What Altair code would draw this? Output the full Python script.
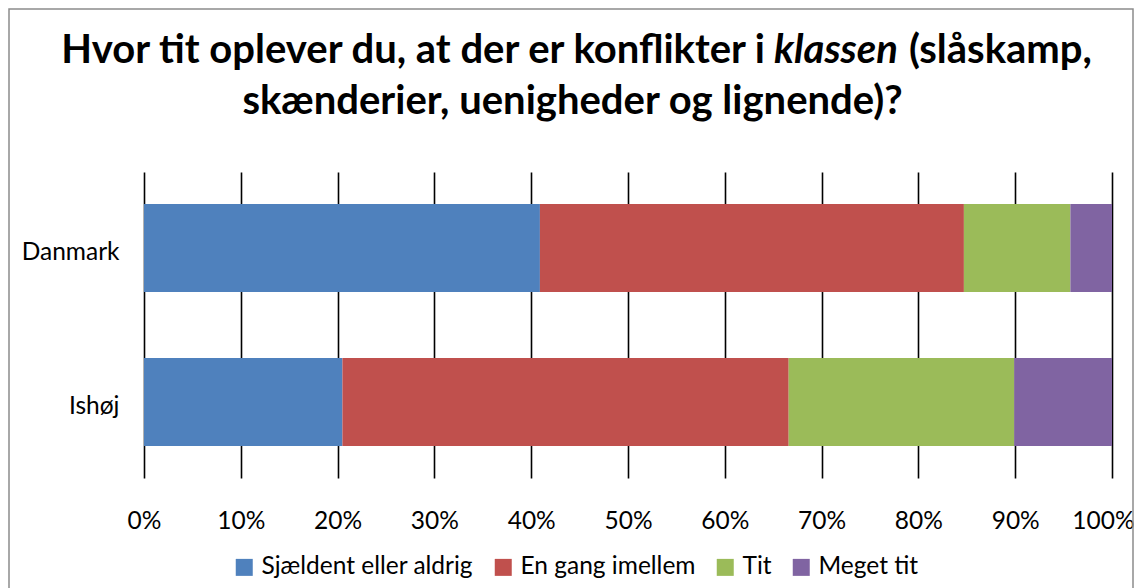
import altair as alt
import pandas as pd

categories = ["Danmark", "Ishøj"]
responses = ["Sjældent eller aldrig", "En gang imellem", "Tit", "Meget tit"]
danmark = [40.9, 43.8, 11.0, 4.3]
ishoj = [20.5, 46.1, 23.3, 10.1]
colors = ["#4F81BD", "#C0504D", "#9BBB59", "#8064A2"]
tick_values = [0, 10, 20, 30, 40, 50, 60, 70, 80, 90, 100]

title_left = "Hvor tit oplever du, at der er konflikter i"
title_italic = "klassen"
title_right = "(slåskamp,"
title_line2 = "skænderier, uenigheder og lignende)?"

rows = []
for cat, vals in zip(categories, [danmark, ishoj]):
    for i, (r, v) in enumerate(zip(responses, vals)):
        rows.append({"land": cat, "svar": r, "andel": v, "idx": i})
df = pd.DataFrame(rows)

FONT = "Lato"
FS = 24.5
W, H = 968, 306

bars = alt.Chart(df).mark_bar().encode(
    y=alt.Y("land:N", sort=categories, title=None,
            scale=alt.Scale(paddingInner=0.4286, paddingOuter=0.208),
            axis=alt.Axis(domain=False, ticks=False, grid=False, labelFont=FONT,
                          labelFontSize=FS, labelColor="black", labelPadding=25,
                          labelOffset=5)),
    x=alt.X("andel:Q", stack="zero", title=None,
            scale=alt.Scale(domain=[0, 100], nice=False),
            axis=alt.Axis(values=tick_values, labelExpr="datum.value + '%'",
                          domain=False, ticks=False, grid=True, gridColor="black",
                          gridWidth=1.6, labelFont=FONT, labelFontSize=FS,
                          labelColor="black", labelPadding=31, labelFlush=False,
                          labelOffset={"condition": {"test": "datum.value === 100", "value": -9},
                                       "value": 0})),
    color=alt.Color("svar:N", sort=responses,
                    scale=alt.Scale(domain=responses, range=colors),
                    legend=alt.Legend(orient="none", legendX=88, legendY=383,
                                      direction="horizontal", columns=4, title=None,
                                      symbolType="square", symbolSize=289,
                                      symbolStrokeWidth=0, labelFont=FONT,
                                      labelFontSize=FS, labelColor="black",
                                      columnPadding=17, labelOffset=5, padding=0,
                                      labelLimit=400)),
    order=alt.Order("idx:Q", sort="ascending"),
)

one = pd.DataFrame({"k": [0]})

def text_piece(txt, x, y, align, italic=False):
    kw = dict(font=FONT, fontSize=40, fontWeight="bold", color="black",
              align=align, baseline="alphabetic")
    if italic:
        kw["fontStyle"] = "italic"
    return alt.Chart(one).mark_text(**kw).encode(
        x=alt.value(x), y=alt.value(y), text=alt.value(txt))

t1 = text_piece(title_left, 621, -109.5, "right")
t2 = text_piece(title_italic, 630, -109.5, "left", italic=True)
t3 = text_piece(title_right, 765, -109.5, "left")
t4 = text_piece(title_line2, 428.5, -58, "center")

frame = alt.Chart(one).mark_rect(fillOpacity=0, stroke="#8c8c8c", strokeWidth=1.5).encode(
    x=alt.value(-135), x2=alt.value(989), y=alt.value(-163), y2=alt.value(430))

chart = alt.layer(frame, bars, t1, t2, t3, t4).properties(
    width=W, height=H,
    autosize=alt.AutoSizeParams(type="none"),
    padding={"left": 136, "top": 164, "right": 22, "bottom": 110},
    background="white",
).configure_view(stroke=None)

chart.save("out.html", embed_options={"renderer": "svg", "actions": False})
